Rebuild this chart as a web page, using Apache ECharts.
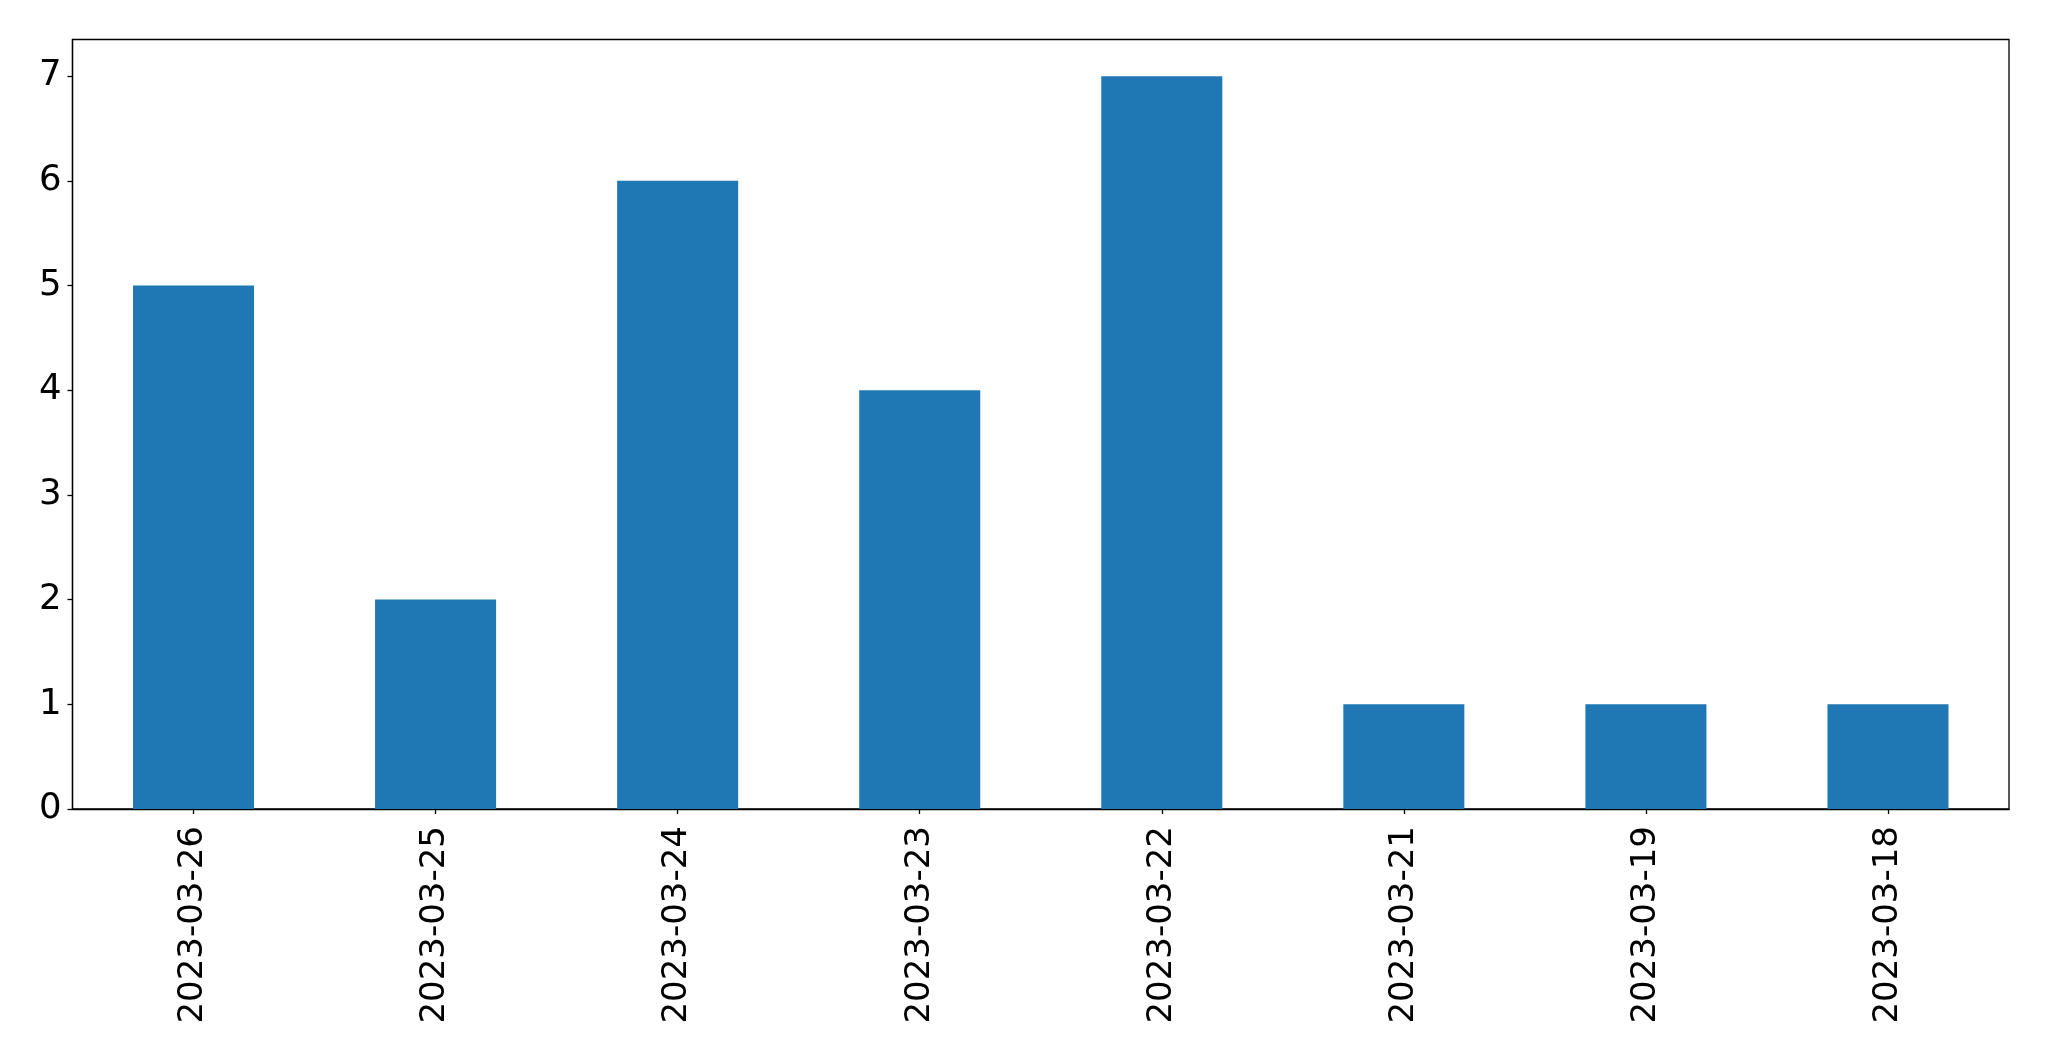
<!DOCTYPE html>
<html>
<head>
<meta charset="utf-8">
<script src="https://cdn.jsdelivr.net/npm/echarts@6/dist/echarts.min.js"></script>
<style>
html,body{margin:0;padding:0;background:#fff;}
#chart{width:2049px;height:1061px;}
</style>
</head>
<body>
<div id="chart"></div>
<script>
const categories = ['2023-03-26','2023-03-25','2023-03-24','2023-03-23','2023-03-22','2023-03-21','2023-03-19','2023-03-18'];
const counts = [5, 2, 6, 4, 7, 1, 1, 1];
const yTicks = [0, 1, 2, 3, 4, 5, 6, 7];

const chart = echarts.init(document.getElementById('chart'), null, {renderer: 'canvas'});
const font = 'DejaVu Sans';
chart.setOption({
  animation: false,
  backgroundColor: '#ffffff',
  grid: {
    left: 72.5, right: 40, top: 39.5, bottom: 252,
    show: true, borderColor: '#000', borderWidth: 1.3, backgroundColor: 'transparent',
    containLabel: false
  },
  xAxis: {
    type: 'category',
    data: categories,
    boundaryGap: true,
    axisLine: {show: true, lineStyle: {color: '#000', width: 1.3}},
    axisTick: {show: true, alignWithLabel: true, length: 5, lineStyle: {color: '#000', width: 1.3}},
    axisLabel: {rotate: 90, fontSize: 34, fontFamily: font, color: '#000', margin: 17, interval: 0},
    splitLine: {show: false}
  },
  yAxis: {
    type: 'value',
    min: 0, max: 7.35, interval: 1,
    axisLine: {show: true, lineStyle: {color: '#000', width: 1.3}},
    axisTick: {show: true, length: 5, lineStyle: {color: '#000', width: 1.3}, customValues: yTicks},
    axisLabel: {fontSize: 35.5, fontFamily: font, color: '#000', margin: 11, padding: [6, 0, 0, 0], customValues: yTicks},
    splitLine: {show: false}
  },
  series: [{
    type: 'bar',
    data: counts,
    barWidth: '50%',
    itemStyle: {color: '#1f77b4'}
  }]
});
</script>
</body>
</html>
